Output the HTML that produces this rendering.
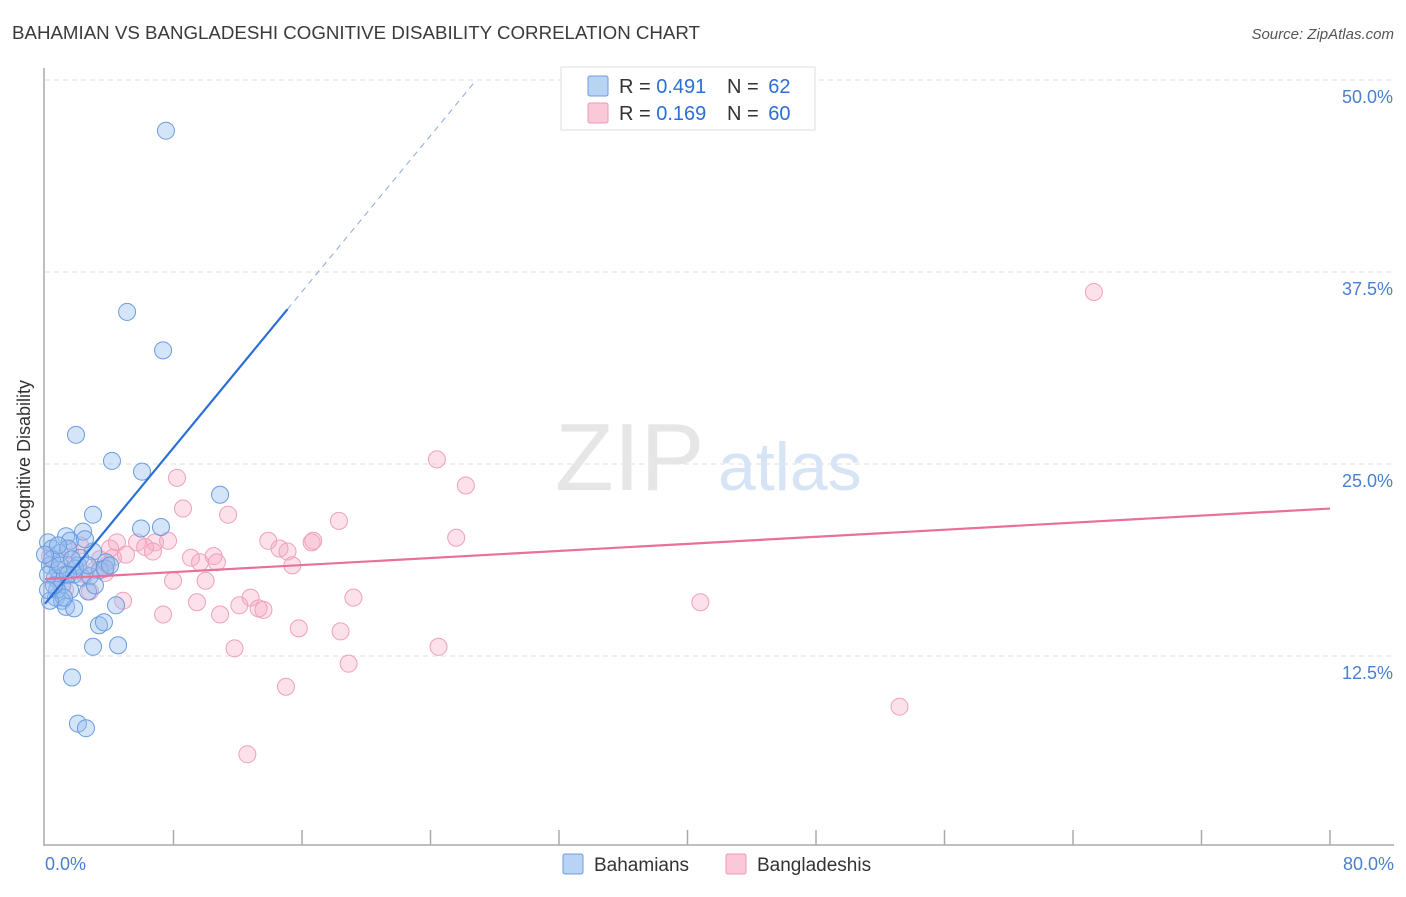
<!DOCTYPE html>
<html><head><meta charset="utf-8"><style>
body{margin:0;background:#fff;font-family:"Liberation Sans",sans-serif;}
svg text{font-family:"Liberation Sans",sans-serif;}
</style></head><body>
<svg width="1406" height="892" viewBox="0 0 1406 892" xmlns="http://www.w3.org/2000/svg">
<text x="12" y="39" font-size="18" fill="#3a3a3a" textLength="688" lengthAdjust="spacingAndGlyphs">BAHAMIAN VS BANGLADESHI COGNITIVE DISABILITY CORRELATION CHART</text>
<text x="1394" y="39" font-size="15" fill="#555" text-anchor="end" font-style="italic">Source: ZipAtlas.com</text>
<g id="grid"></g>
<text x="555" y="490" font-size="96" fill="#e6e6e6" font-family="Liberation Serif">ZIP</text>
<text x="718" y="490" font-size="68" fill="#d6e4f5">atlas</text>
<line x1="44" y1="68" x2="44" y2="846" stroke="#aaa" stroke-width="1.5"/>
<line x1="44" y1="845" x2="1394" y2="845" stroke="#aaa" stroke-width="1.5"/>
<g id="xticks"></g>
<text x="30" y="456" font-size="18" fill="#333" transform="rotate(-90 30 456)" text-anchor="middle">Cognitive Disability</text>
<text x="45" y="870" font-size="18" fill="#4a7fd0">0.0%</text>
<text x="1394" y="870" font-size="18" fill="#4a7fd0" text-anchor="end">80.0%</text>
<g id="pts"></g>
<g id="lines"></g>
<g>
<rect x="561" y="67" width="254" height="63" fill="#fff" stroke="#ddd"/>
<rect x="588" y="76" width="20" height="20" fill="#b9d3f5" stroke="#6b9be0" rx="2"/>
<rect x="588" y="103" width="20" height="20" fill="#fbc8d7" stroke="#ec98b4" rx="2"/>
<text x="619" y="93" font-size="20" fill="#333">R = <tspan fill="#2b6fd6">0.491</tspan></text>
<text x="727" y="93" font-size="20" fill="#333">N = <tspan fill="#2b6fd6" dx="4">62</tspan></text>
<text x="619" y="120" font-size="20" fill="#333">R = <tspan fill="#2b6fd6">0.169</tspan></text>
<text x="727" y="120" font-size="20" fill="#333">N = <tspan fill="#2b6fd6" dx="4">60</tspan></text>
</g>
<g>
<rect x="563" y="854" width="20" height="20" fill="#b9d3f5" stroke="#6b9be0" rx="2"/>
<text x="594" y="871" font-size="19" fill="#333">Bahamians</text>
<rect x="726" y="854" width="20" height="20" fill="#fbc8d7" stroke="#ec98b4" rx="2"/>
<text x="757" y="871" font-size="19" fill="#333">Bangladeshis</text>
</g>
</svg>
<script>
const yTicks=[12.5,25,37.5,50];
const yTickLabels=["12.5%","25.0%","37.5%","50.0%"];
const xTicks=[8,16,24,32,40,48,56,64,72,80];
const blueX=[7.53,5.11,7.35,1.93,4.17,6.04,10.9,2.99,5.98,7.22,2.37,1.31,1.56,0.19,0.44,2.99,0.93,2.18,3.80,0.31,0.81,1.25,1.81,2.30,2.80,0.62,0.19,1.06,1.56,2.68,0.68,1.06,1.31,1.81,4.42,3.36,3.67,2.99,4.55,1.68,2.05,2.55,0.44,0.93,3.42,1.43,2.05,0,0.75,1.87,2.49,1.18,0.31,3.11,1.68,0.81,3.74,2.68,0.56,4.05,1.43,0.19];
const blueY=[46.7,34.9,32.4,26.9,25.2,24.5,23.0,21.7,20.8,20.9,20.6,20.3,20.0,19.9,19.5,19.3,19.2,18.9,18.6,18.4,18.1,17.8,17.8,17.6,17.7,17.6,17.8,17.1,16.8,16.7,16.3,16.1,15.7,15.6,15.8,14.5,14.7,13.1,13.2,11.1,8.1,7.8,18.8,18.4,18.1,19.5,18.4,19.1,16.8,18.2,20.1,16.3,16.1,17.1,18.8,19.7,18.2,18.4,17.1,18.4,17.8,16.8];
const pinkX=[65.3,24.4,26.2,8.22,8.59,11.4,18.3,25.6,4.48,5.73,6.85,7.66,6.23,6.72,5.04,4.23,9.09,9.65,10.5,10.7,13.9,14.6,15.1,16.6,16.7,15.4,3.86,3.74,7.97,10.0,2.80,4.86,12.8,9.46,12.1,13.3,13.6,7.35,10.9,19.2,15.8,18.4,11.8,24.5,18.9,15.0,12.6,40.8,53.2,0.31,0.93,2.18,1.87,3.11,0.81,1.56,2.49,1.25,3.42,4.05];
const pinkY=[36.2,25.3,23.6,24.1,22.1,21.7,21.3,20.2,19.9,19.9,19.9,20.0,19.6,19.3,19.1,18.9,18.9,18.6,19.0,18.6,20.0,19.5,19.3,19.9,20.0,18.4,18.4,17.9,17.4,17.4,16.7,16.1,16.3,16.0,15.8,15.6,15.5,15.2,15.2,16.3,14.3,14.1,13.0,13.1,12.0,10.5,6.1,16.0,9.2,19.0,18.8,19.7,18.4,18.1,17.4,19.4,17.8,16.8,18.8,19.5];
const blueLine=[15.9,1.27];
const pinkLine=[17.5,0.0575];
const NS="http://www.w3.org/2000/svg";
function sx(v){return 45+v/80*1285;}
function sy(v){return 848-v*15.36;}
function mk(tag,attrs,parent){const e=document.createElementNS(NS,tag);for(const k in attrs)e.setAttribute(k,attrs[k]);parent.appendChild(e);return e;}
const grid=document.getElementById('grid');
yTicks.forEach((t,i)=>{
 const l=mk('line',{x1:45,x2:1394,y1:sy(t),y2:sy(t),stroke:'#ddd','stroke-dasharray':'5,4'},grid);
 
 
 const tx=mk('text',{x:1393,y:sy(t)+23,'font-size':18,fill:'#4a7fd0','text-anchor':'end'},grid);
 tx.textContent=yTickLabels[i];
 
 
});
const xt=document.getElementById('xticks');
xTicks.forEach(t=>{
 const l=mk('line',{x1:sx(t),x2:sx(t),y1:830,y2:845,stroke:'#aaa','stroke-width':1.5},xt);
 
 
});
const pts=document.getElementById('pts');
pinkX.forEach((x,i)=>{
 const c=mk('circle',{cx:sx(x),cy:sy(pinkY[i]),r:8.5,fill:'rgba(246,170,196,0.35)',stroke:'#f0a0bb','stroke-width':1},pts);
 
 
});
blueX.forEach((x,i)=>{
 const c=mk('circle',{cx:sx(x),cy:sy(blueY[i]),r:8.5,fill:'rgba(150,190,240,0.4)',stroke:'#6a9be0','stroke-width':1},pts);
 
 
});
const lines=document.getElementById('lines');
const bx2=15.1, bx3=(50-blueLine[0])/blueLine[1];
let l1=mk('line',{x1:sx(0),y1:sy(blueLine[0]),x2:sx(bx2),y2:sy(blueLine[0]+blueLine[1]*bx2),stroke:'#2b6fd6','stroke-width':2.2},lines);


let l2=mk('line',{x1:sx(bx2),y1:sy(blueLine[0]+blueLine[1]*bx2),x2:sx(bx3),y2:sy(50),stroke:'#8aa8dd','stroke-width':1,'stroke-dasharray':'6,5'},lines);


let l3=mk('line',{x1:sx(0),y1:sy(pinkLine[0]),x2:sx(80),y2:sy(pinkLine[0]+pinkLine[1]*80),stroke:'#e8709a','stroke-width':2.2},lines);


</script>
</body></html>
